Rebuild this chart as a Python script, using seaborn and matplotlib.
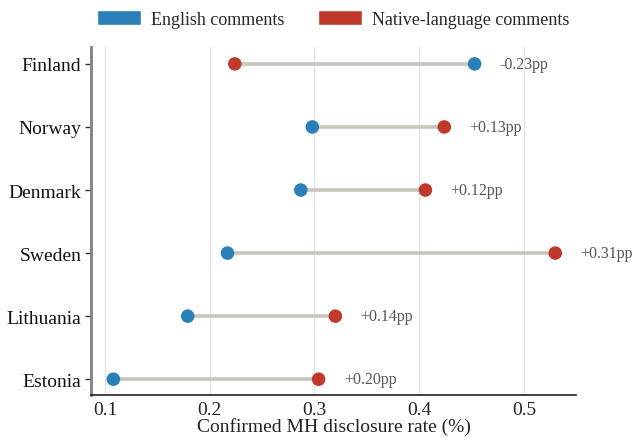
import matplotlib
matplotlib.use("Agg")
import matplotlib.pyplot as plt
from matplotlib.patches import Patch
import seaborn as sns
import pandas as pd

countries = ["Finland", "Norway", "Denmark", "Sweden", "Lithuania", "Estonia"]
english = [0.453, 0.298, 0.287, 0.217, 0.179, 0.108]
native = [0.224, 0.424, 0.406, 0.530, 0.320, 0.304]
diff_labels = ["-0.23pp", "+0.13pp", "+0.12pp", "+0.31pp", "+0.14pp", "+0.20pp"]
xticks = [0.1, 0.2, 0.3, 0.4, 0.5]

blue = "#2980b9"
red = "#c0392b"

sns.set_theme(style="white")
plt.rcParams["font.family"] = ["Liberation Serif", "DejaVu Serif"]

df = pd.DataFrame({"country": countries, "English": english, "Native": native})
long = df.melt(id_vars="country", var_name="lang", value_name="rate")

fig = plt.figure(figsize=(6.36, 4.39), dpi=100)
ax = fig.add_axes([0.143, 0.098, 0.763, 0.793])

ax.hlines(df["country"], df[["English", "Native"]].min(axis=1),
          df[["English", "Native"]].max(axis=1), color="#c9c5bd", lw=2.6, zorder=1)
sns.scatterplot(data=long, x="rate", y="country", hue="lang",
                palette={"English": blue, "Native": red}, s=95,
                edgecolor="none", legend=False, ax=ax, zorder=3)

for c, e, n, lab in zip(countries, english, native, diff_labels):
    ax.text(max(e, n) + 0.024, c, lab, ha="left", va="center",
            fontsize=11.5, color="#555555")

ax.set_xlim(0.0866, 0.55)
ax.set_ylim(5.25, -0.27)
ax.set_xticks(xticks)
ax.set_xticklabels([f"{t:.1f}" for t in xticks])
ax.xaxis.grid(True, color="#e3e3e3", lw=0.9)
ax.yaxis.grid(False)
ax.set_axisbelow(True)

for s in ["top", "right"]:
    ax.spines[s].set_visible(False)
ax.spines["left"].set_color("#808080")
ax.spines["left"].set_linewidth(2.0)
ax.spines["bottom"].set_color("#222222")
ax.spines["bottom"].set_linewidth(1.2)

ax.tick_params(axis="y", length=4, width=1, color="#333333", labelsize=14, pad=3, left=True)
ax.tick_params(axis="x", length=0, labelsize=14, pad=4, labelcolor="#222222")
ax.tick_params(axis="y", labelcolor="#111111")
ax.set_ylabel("")
ax.set_xlabel("Confirmed MH disclosure rate (%)", fontsize=14, labelpad=0, color="#222222")

handles = [Patch(facecolor=blue, label="English comments"),
           Patch(facecolor=red, label="Native-language comments")]
fig.legend(handles=handles, loc="center", bbox_to_anchor=(0.524, 0.955), ncol=2,
           frameon=False, fontsize=13, handlelength=2.4, handleheight=0.9,
           handletextpad=0.55, columnspacing=1.9)

fig.savefig("out.png", dpi=100)
